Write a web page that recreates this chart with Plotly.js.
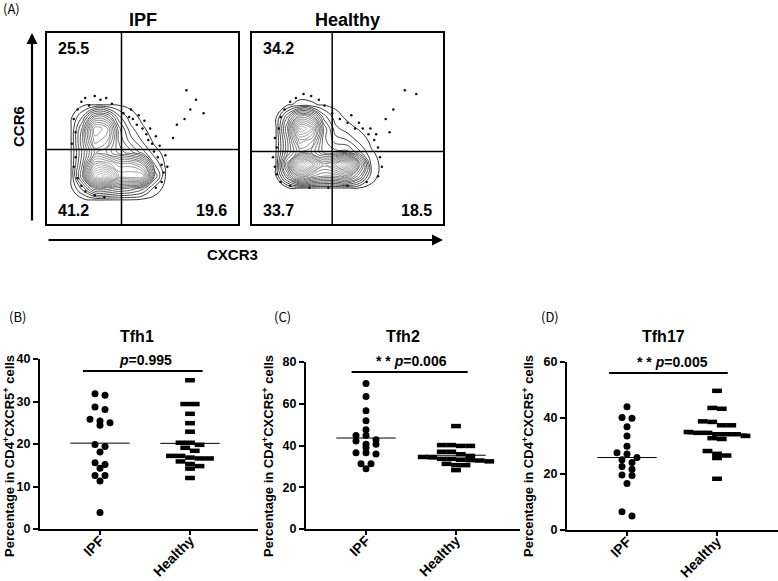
<!DOCTYPE html>
<html>
<head>
<meta charset="utf-8">
<script src="https://cdn.plot.ly/plotly-3.0.1.min.js"></script>
<style>html,body{margin:0;padding:0;background:#fff;}#chart{width:778px;height:581px;}</style>
</head>
<body>
<div id="chart"></div>
<script>
// ---------- Panel A: flow cytometry density grids (box coords 0..1) ----------
const flowGridX = [0, 0.0625, 0.125, 0.1875, 0.25, 0.3125, 0.375, 0.4375, 0.5, 0.5625, 0.625, 0.6875, 0.75];
const flowGridY = [0, 0.0625, 0.125, 0.1875, 0.25, 0.3125, 0.375, 0.4375, 0.5, 0.5625, 0.625, 0.6875, 0.75];
const ipfDensity = [
  [0,0,0,0,0,0,0,0,0,0,0,0,0],
  [0,0,0,0,0,0,0,0,0,0,0,0,0],
  [0,0,0,0,0.1,0.1,0.1,0.1,0,0,0,0,0],
  [0,0,0.05,1.2,3,3,2.5,2.2,1.6,0.4,0,0,0],
  [0,0,0.1,2.8,8,9,6,6,6,1.8,0,0,0],
  [0,0,0.1,2.3,6,6,5,5,4,1.0,0,0,0],
  [0,0,0.1,2.0,4,3.5,2.5,2,1.2,0.3,0,0,0],
  [0,0,0.1,2.3,5,4.5,2.2,1.2,0.5,0.05,0,0,0],
  [0,0,0.1,2.0,5.5,5,2,0.7,0.2,0,0,0,0],
  [0,0,0.05,1.0,3,2.8,1.1,0.3,0.05,0,0,0,0],
  [0,0,0,0.05,0.1,0.1,0.1,0.05,0,0,0,0,0],
  [0,0,0,0,0,0,0,0,0,0,0,0,0],
  [0,0,0,0,0,0,0,0,0,0,0,0,0]
];
const healthyDensity = [
  [0,0,0,0,0,0,0,0,0,0,0,0,0],
  [0,0,0,0,0,0,0,0,0,0,0,0,0],
  [0,0,0,0,0,0,0,0,0,0,0,0,0],
  [0,0,0,0.05,0.1,0.1,0.1,0.1,0.1,0.1,0.05,0,0],
  [0,0,0.1,2.3,5,4,3.5,3.5,4,2.3,0.3,0,0],
  [0,0,0.12,3.8,9,7,5,6,8,3.8,0.4,0,0],
  [0,0,0.12,2.3,4,3.5,2.2,2,2,1.1,0.2,0,0],
  [0,0,0.1,2.3,5,4.5,2,1.2,1,0.4,0.05,0,0],
  [0,0,0.1,2.8,7,6,2.2,0.7,0.3,0.1,0,0,0],
  [0,0,0.05,1.8,4,3.5,1.2,0.3,0.05,0,0,0,0],
  [0,0,0,0.1,0.25,0.2,0.1,0.05,0,0,0,0,0],
  [0,0,0,0,0,0,0,0,0,0,0,0,0],
  [0,0,0,0,0,0,0,0,0,0,0,0,0]
];
// sparse events outside the outer contour (box coords)
const ipfEventsX = [0.16,0.18,0.20,0.22,0.25,0.28,0.31,0.34,0.14,0.15,0.13,0.15,0.14,0.16,0.18,0.20,0.25,0.30,
  0.40,0.43,0.45,0.47,0.50,0.52,0.53,0.55,0.56,0.58,0.60,0.61,0.60,0.57,0.44,0.48,0.51,0.54,0.57,0.59,0.62,0.63,
  0.68,0.72,0.75,0.78,0.73,0.82,0.66];
const ipfEventsY = [0.60,0.64,0.66,0.62,0.67,0.65,0.66,0.63,0.55,0.48,0.42,0.35,0.30,0.24,0.20,0.17,0.15,0.14,
  0.58,0.56,0.55,0.52,0.50,0.47,0.44,0.42,0.38,0.35,0.31,0.27,0.22,0.19,0.60,0.57,0.54,0.50,0.46,0.41,0.36,0.30,
  0.52,0.55,0.60,0.65,0.70,0.58,0.45];
const healthyEventsX = [0.12,0.11,0.13,0.12,0.14,0.13,0.15,0.15,0.17,0.20,0.23,0.27,0.31,0.35,0.38,0.20,0.30,0.40,0.50,
  0.42,0.46,0.50,0.54,0.58,0.61,0.64,0.66,0.67,0.68,0.66,0.60,0.52,0.56,0.62,0.65,
  0.70,0.74,0.80,0.86,0.72];
const healthyEventsY = [0.30,0.35,0.40,0.45,0.50,0.26,0.22,0.56,0.60,0.64,0.66,0.68,0.67,0.65,0.62,0.20,0.19,0.19,0.20,
  0.58,0.55,0.53,0.50,0.50,0.47,0.44,0.40,0.35,0.30,0.25,0.22,0.57,0.53,0.50,0.47,
  0.55,0.60,0.70,0.68,0.48];
const flowGroups = ['IPF', 'Healthy'];
const ipfGate = [0.39, 0.39];      // [CXCR3 gate, CCR6 gate]
const healthyGate = [0.42, 0.38];
const ipfQuadrants = ['25.5', '41.2', '19.6'];      // upper-left, lower-left, lower-right
const healthyQuadrants = ['34.2', '33.7', '18.5'];

// ---------- Panels B-D: dot plots ----------
const groups = ['IPF', 'Healthy'];
const panelTitles = ['Tfh1', 'Tfh2', 'Tfh17'];
const pLabels = ['<i>p</i>=0.995', '* * <i>p</i>=0.006', '* * <i>p</i>=0.005'];
const tfh1IPF = [31.8, 31.5, 28.7, 28.1, 25.8, 25.4, 25.0, 24.4, 19.9, 19.4, 18.1, 15.6, 15.2, 14.3, 12.6, 12.6, 11.3, 3.9];
const tfh1Healthy = [35.0, 29.4, 29.4, 27.1, 24.9, 22.9, 20.3, 20.3, 19.8, 19.1, 18.4, 17.2, 17.2, 16.8, 16.6, 16.6, 15.9, 15.3, 14.8, 14.2, 12.0];
const tfh2IPF = [69.7, 63.5, 56.7, 51.9, 47.6, 44.8, 44.8, 42.8, 42.2, 40.6, 40.6, 38.9, 36.5, 36.5, 35.9, 31.3, 31.3, 28.9];
const tfh2Healthy = [49.3, 40.2, 40.2, 39.8, 39.8, 37.0, 37.0, 35.8, 35.0, 34.5, 34.3, 33.6, 33.6, 33.2, 33.0, 32.8, 32.4, 31.2, 30.6, 30.6, 28.2];
const tfh17IPF = [44.0, 40.2, 39.9, 36.9, 33.6, 29.9, 27.6, 27.1, 25.9, 25.1, 24.1, 22.7, 21.7, 19.6, 19.5, 16.6, 6.5, 5.0];
const tfh17Healthy = [49.7, 43.6, 43.3, 38.8, 38.6, 37.4, 37.4, 35.0, 34.7, 34.7, 34.2, 34.2, 34.2, 33.6, 32.8, 32.5, 28.2, 27.2, 26.6, 25.7, 18.3];
const yMax = [40, 80, 60];
const yDtick = [10, 20, 20];

// ---------- geometry (pixels on a 778x581 page) ----------
const W = 778, H = 581;
const px = v => v / W, py = v => 1 - v / H;
const FONT = 'Liberation Sans, Arial, sans-serif';
const JFONT = 'Noto Sans CJK JP, Liberation Sans, sans-serif';

const flowBoxes = [[47, 238], [252, 443]];
const flowTop = 33, flowBottom = 224;
const dotPanels = [
  {x0: 40, x1: 258, top: 359, bottom: 529, cat0: 100},
  {x0: 306, x1: 520, top: 362, bottom: 529, cat0: 366},
  {x0: 567, x1: 778, top: 362, bottom: 530, cat0: 627}
];
const CAT_PX = 90;

function swarm(vals, center, pxPerUnitY, rowPx, colPx) {
  const idx = vals.map((v, i) => i).sort((a, b) => vals[b] - vals[a]);
  const xs = new Array(vals.length);
  let i = 0;
  while (i < idx.length) {
    let j = i; const top = vals[idx[i]];
    while (j < idx.length && (top - vals[idx[j]]) * pxPerUnitY < rowPx) j++;
    const n = j - i;
    for (let k = 0; k < n; k++) xs[idx[i + k]] = center + (k - (n - 1) / 2) * colPx / CAT_PX;
    i = j;
  }
  return xs;
}
const mean = a => a.reduce((s, v) => s + v, 0) / a.length;

const traces = [];
const layout = {
  width: W, height: H, margin: {l: 0, r: 0, t: 0, b: 0},
  paper_bgcolor: '#fff', plot_bgcolor: 'rgba(0,0,0,0)',
  showlegend: false, font: {family: FONT, color: '#000'},
  shapes: [], annotations: []
};
function note(o) {
  layout.annotations.push(Object.assign({showarrow: false, xanchor: 'center', yanchor: 'middle'}, o));
}

// Panel A
const densities = [ipfDensity, healthyDensity];
const eventsX = [ipfEventsX, healthyEventsX], eventsY = [ipfEventsY, healthyEventsY];
const gates = [ipfGate, healthyGate];
const quads = [ipfQuadrants, healthyQuadrants];
for (let k = 0; k < 2; k++) {
  const xa = 'xaxis' + (k === 0 ? '' : k + 1), ya = 'yaxis' + (k === 0 ? '' : k + 1);
  const xr = 'x' + (k === 0 ? '' : k + 1), yr = 'y' + (k === 0 ? '' : k + 1);
  const [bx0, bx1] = flowBoxes[k];
  layout[xa] = {domain: [px(bx0), px(bx1)], range: [0, 1], anchor: yr, showline: true, mirror: true,
    linewidth: 2, linecolor: '#000', showgrid: false, zeroline: false, showticklabels: false, ticks: ''};
  layout[ya] = {domain: [py(flowBottom), py(flowTop)], range: [0, 1], anchor: xr, showline: true, mirror: true,
    linewidth: 2, linecolor: '#000', showgrid: false, zeroline: false, showticklabels: false, ticks: ''};
  traces.push({type: 'contour', x: flowGridX, y: flowGridY, z: densities[k], xaxis: xr, yaxis: yr,
    showscale: false, hoverinfo: 'skip',
    contours: {coloring: 'lines', start: 0.15, end: 9, size: 0.42},
    colorscale: [[0, '#000'], [0.2, '#333'], [0.5, '#777'], [1, '#bbb']],
    line: {width: 0.8, smoothing: 1.3}});
  traces.push({type: 'scatter', mode: 'markers', x: eventsX[k], y: eventsY[k], xaxis: xr, yaxis: yr,
    hoverinfo: 'skip', marker: {size: 2.5, color: '#111', line: {width: 0}}});
  layout.shapes.push({type: 'line', xref: xr, yref: yr, x0: gates[k][0], x1: gates[k][0], y0: 0, y1: 1, line: {color: '#000', width: 1.5}});
  layout.shapes.push({type: 'line', xref: xr, yref: yr, x0: 0, x1: 1, y0: gates[k][1], y1: gates[k][1], line: {color: '#000', width: 1.5}});
  const qf = {size: 16, weight: 'bold', family: FONT};
  note({xref: xr, yref: yr, x: 0.14, y: 0.92, text: quads[k][0], font: qf});
  note({xref: xr, yref: yr, x: 0.14, y: 0.07, text: quads[k][1], font: qf});
  note({xref: xr, yref: yr, x: 0.86, y: 0.07, text: quads[k][2], font: qf});
  note({xref: 'paper', yref: 'paper', x: px((bx0 + bx1) / 2), y: py(20), text: flowGroups[k],
    font: {size: 18, weight: 'bold', family: FONT}});
}
note({xref: 'paper', yref: 'paper', x: px(1), y: py(8), xanchor: 'left', text: '(A)', font: {size: 13, family: JFONT}});
// axis arrows
layout.annotations.push({xref: 'paper', yref: 'paper', x: px(32), y: py(33), ax: 0, ay: 189, text: '',
  showarrow: true, arrowhead: 2, arrowsize: 1, arrowwidth: 2.2, arrowcolor: '#000'});
layout.annotations.push({xref: 'paper', yref: 'paper', x: px(443), y: py(240), ax: -396, ay: 0, text: '',
  showarrow: true, arrowhead: 2, arrowsize: 1, arrowwidth: 2.2, arrowcolor: '#000'});
note({xref: 'paper', yref: 'paper', x: px(18), y: py(127), text: 'CCR6', textangle: -90,
  font: {size: 15, weight: 'bold', family: FONT}});
note({xref: 'paper', yref: 'paper', x: px(232), y: py(254), text: 'CXCR3',
  font: {size: 15, weight: 'bold', family: FONT}});

// Panels B-D
const series = [[tfh1IPF, tfh1Healthy], [tfh2IPF, tfh2Healthy], [tfh17IPF, tfh17Healthy]];
const panelLetters = ['(B)', '(C)', '(D)'];
const letterX = [7, 272, 539];
const titleX = [9, 268, 528];
const sigLine = [[-0.19, 1.14, 37.2], [-0.16, 1.13, 75.2], [-0.2, 1.12, 56.1]];
for (let p = 0; p < 3; p++) {
  const n = p + 3;
  const xr = 'x' + n, yr = 'y' + n;
  const d = dotPanels[p];
  const left = (d.x0 - d.cat0) / CAT_PX, right = (d.x1 - d.cat0) / CAT_PX;
  const pxPerUnitY = (d.bottom - d.top) / yMax[p];
  layout['xaxis' + n] = {domain: [px(d.x0), px(d.x1)], range: [left, right], anchor: yr,
    showline: true, linewidth: 2, linecolor: '#000', showgrid: false, zeroline: false,
    tickvals: [0, 1], ticktext: groups, tickangle: -45, ticks: 'outside', ticklen: 4, tickwidth: 1.5, tickcolor: '#000',
    ticklabelstandoff: -8,
    tickfont: {size: 14, weight: 'bold', family: FONT}};
  layout['yaxis' + n] = {domain: [py(d.bottom), py(d.top)], range: [0, yMax[p]], anchor: xr,
    showline: true, linewidth: 2, linecolor: '#000', showgrid: false, zeroline: false,
    dtick: yDtick[p], tick0: 0, ticks: 'outside', ticklen: 5, tickwidth: 2, tickcolor: '#000',
    tickfont: {size: 12.5, weight: 'bold', family: FONT}};
  for (let g = 0; g < 2; g++) {
    const vals = series[p][g];
    const xs = swarm(vals, g, pxPerUnitY, 4.8, g === 0 ? 10 : 9.5);
    traces.push({type: 'scatter', mode: 'markers', x: xs, y: vals, xaxis: xr, yaxis: yr, hoverinfo: 'y', cliponaxis: false,
      marker: g === 0 ? {symbol: 'circle', size: 7, color: '#000', line: {width: 0}}
                      : {symbol: 'line-ew', size: 7, color: '#000', line: {width: 4.5, color: '#000'}}});
    const m = mean(vals);
    traces.push({type: 'scatter', mode: 'lines', x: [g - 0.33, g + 0.33], y: [m, m], xaxis: xr, yaxis: yr,
      hoverinfo: 'skip', line: {color: '#000', width: 1}});
  }
  layout.shapes.push({type: 'line', xref: xr, yref: yr, x0: sigLine[p][0], x1: sigLine[p][1], y0: sigLine[p][2], y1: sigLine[p][2],
    line: {color: '#000', width: 2}});
  note({xref: xr, yref: yr, x: 0.5, y: sigLine[p][2], yanchor: 'bottom', yshift: 1, text: pLabels[p],
    font: {size: 14, weight: 'bold', family: FONT}});
  note({xref: xr, yref: 'paper', x: 0.41, y: py(337), text: panelTitles[p],
    font: {size: 16, weight: 'bold', family: FONT}});
  note({xref: 'paper', yref: 'paper', x: px(letterX[p]), y: py(316), xanchor: 'left', text: panelLetters[p],
    font: {size: 13, family: JFONT}});
  note({xref: 'paper', yref: 'paper', x: px(titleX[p]), y: py(456), textangle: -90,
    text: 'Percentage in CD4<sup>+</sup>CXCR5<sup>+</sup> cells',
    font: {size: 13, weight: 'bold', family: FONT}});
}

Plotly.newPlot('chart', traces, layout, {staticPlot: true, displayModeBar: false});
</script>
</body>
</html>
